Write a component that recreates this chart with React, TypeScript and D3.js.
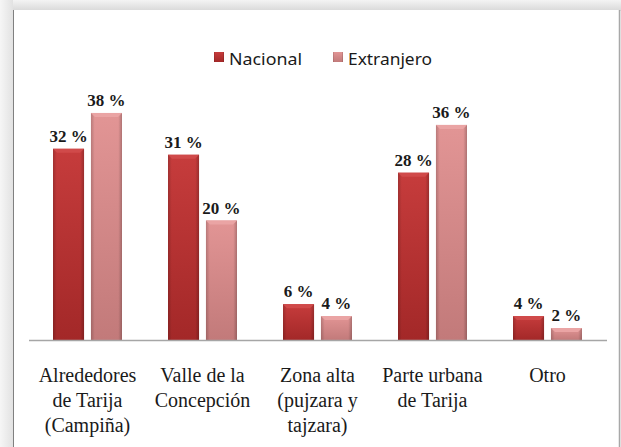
import React from "react";
import * as d3 from "d3";

const categories: string[][] = [
  ["Alrededores", "de Tarija", "(Campiña)"],
  ["Valle de la", "Concepción"],
  ["Zona alta", "(pujzara y", "tajzara)"],
  ["Parte urbana", "de Tarija"],
  ["Otro"],
];
const seriesNames = ["Nacional", "Extranjero"];
const nacional = [32, 31, 6, 28, 4];
const extranjero = [38, 20, 4, 36, 2];

const W = 621;
const H = 447;

export default function App() {
  const keys = categories.map((c) => c.join(" "));
  const x0 = d3.scaleBand<string>().domain(keys).range([30, 605]).paddingInner(0).paddingOuter(0);
  const x1 = d3.scaleBand<string>().domain(seriesNames).range([-34.5, 34.5]).paddingInner(7 / 38.5).paddingOuter(0);
  const y = d3.scaleLinear().domain([0, 40]).range([340, 101]);
  const series = [nacional, extranjero];
  const grads = ["gN", "gE"];
  const tops = ["#d04a4a", "#eaa4a4"];

  return (
    <svg width={W} height={H} style={{ position: "absolute", left: 0, top: 0 }} xmlns="http://www.w3.org/2000/svg">
      <defs>
        <linearGradient id="gN" x1="0" y1="0" x2="0" y2="1">
          <stop offset="0" stopColor="#c63c3c" />
          <stop offset="1" stopColor="#a32828" />
        </linearGradient>
        <linearGradient id="gE" x1="0" y1="0" x2="0" y2="1">
          <stop offset="0" stopColor="#e29595" />
          <stop offset="1" stopColor="#c27a7a" />
        </linearGradient>
        <linearGradient id="side" x1="0" y1="0" x2="1" y2="0">
          <stop offset="0" stopColor="#000" stopOpacity="0.18" />
          <stop offset="0.12" stopColor="#000" stopOpacity="0" />
          <stop offset="0.88" stopColor="#000" stopOpacity="0" />
          <stop offset="1" stopColor="#000" stopOpacity="0.22" />
        </linearGradient>
        <linearGradient id="topShadow" x1="0" y1="0" x2="0" y2="1">
          <stop offset="0" stopColor="#f4f4f4" />
          <stop offset="1" stopColor="#d8d8d8" />
        </linearGradient>
        <linearGradient id="leftShadow" x1="0" y1="0" x2="1" y2="0">
          <stop offset="0" stopColor="#f6f6f6" />
          <stop offset="1" stopColor="#e2e2e2" />
        </linearGradient>
      </defs>
      <rect x={0} y={0} width={W} height={H} fill="#f2f2f2" />
      <rect x={0} y={0} width={W} height={11} fill="url(#topShadow)" />
      <rect x={0} y={0} width={13} height={H} fill="url(#leftShadow)" />
      <rect x={13} y={10} width={606} height={H - 10} fill="#ffffff" />
      <line x1={13.5} y1={10} x2={13.5} y2={H} stroke="#808080" strokeWidth={1} />
      <line x1={619.5} y1={10} x2={619.5} y2={H} stroke="#a8a8a8" strokeWidth={1.5} />

      {/* legend */}
      <g fontFamily="'Noto Sans', 'Liberation Sans', sans-serif" fontSize={16} fill="#1a1a1a">
        <rect x={214} y={52} width={10} height={10} fill="url(#gN)" />
        <rect x={214} y={52} width={10} height={10} fill="url(#side)" />
        <text x={229} y={65} textLength={73} lengthAdjust="spacingAndGlyphs">{seriesNames[0]}</text>
        <rect x={333} y={52} width={10} height={10} fill="url(#gE)" />
        <rect x={333} y={52} width={10} height={10} fill="url(#side)" />
        <text x={348} y={65} textLength={84} lengthAdjust="spacingAndGlyphs">{seriesNames[1]}</text>
      </g>

      {/* bars */}
      {keys.map((k, i) => (
        <g key={k} transform={`translate(${x0(k)! + x0.bandwidth() / 2},0)`}>
          {series.map((s, j) => {
            const bx = x1(seriesNames[j])!;
            const bw = x1.bandwidth();
            const top = y(s[i]);
            const h = y(0) - top;
            return (
              <g key={j}>
                <rect x={bx} y={top} width={bw} height={h} fill={`url(#${grads[j]})`} />
                <rect x={bx} y={top} width={bw} height={h} fill="url(#side)" />
                <polygon
                  points={`${bx},${top} ${bx + bw},${top} ${bx + bw - 4},${top + 4} ${bx + 4},${top + 4}`}
                  fill={tops[j]}
                />
                <text
                  x={bx + bw / 2}
                  y={top - 7}
                  textAnchor="middle"
                  fontFamily="'Liberation Serif', serif"
                  fontWeight="bold"
                  fontSize={17}
                  fill="#1a1a1a"
                >
                  {s[i]} %
                </text>
              </g>
            );
          })}
        </g>
      ))}

      {/* axis line */}
      <line x1={29} y1={340.5} x2={607} y2={340.5} stroke="#a6a6a6" strokeWidth={1.5} />

      {/* category labels */}
      <g fontFamily="'Liberation Serif', serif" fontSize={20} fill="#1a1a1a" textAnchor="middle">
        {categories.map((lines, i) => (
          <text key={i} x={x0(keys[i])! + x0.bandwidth() / 2} y={382}>
            {lines.map((ln, li) => (
              <tspan key={li} x={x0(keys[i])! + x0.bandwidth() / 2} dy={li === 0 ? 0 : 25}>
                {ln}
              </tspan>
            ))}
          </text>
        ))}
      </g>
    </svg>
  );
}
